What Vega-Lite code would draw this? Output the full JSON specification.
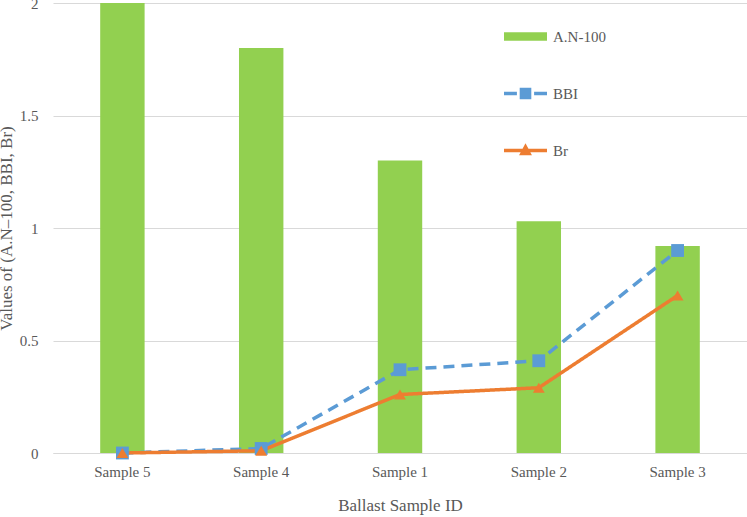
{
  "$schema": "https://vega.github.io/schema/vega-lite/v6.json",
  "width": 694,
  "height": 450,
  "autosize": {"type": "none"},
  "padding": {"left": 53, "top": 3, "right": 0, "bottom": 64},
  "background": "white",
  "config": {
    "font": "Liberation Serif",
    "view": {"stroke": null},
    "text": {"font": "Liberation Serif"},
    "axis": {"labelFont": "Liberation Serif", "titleFont": "Liberation Serif", "labelColor": "#595959", "titleColor": "#595959", "titleFontWeight": "normal"},
    "legend": {"labelFont": "Liberation Serif"}
  },
  "data": {
    "values": [
      {"sample": "Sample 5", "series": "A.N-100", "value": 2.0},
      {"sample": "Sample 4", "series": "A.N-100", "value": 1.8},
      {"sample": "Sample 1", "series": "A.N-100", "value": 1.3},
      {"sample": "Sample 2", "series": "A.N-100", "value": 1.03},
      {"sample": "Sample 3", "series": "A.N-100", "value": 0.92},
      {"sample": "Sample 5", "series": "BBI", "value": 0.0},
      {"sample": "Sample 4", "series": "BBI", "value": 0.02},
      {"sample": "Sample 1", "series": "BBI", "value": 0.37},
      {"sample": "Sample 2", "series": "BBI", "value": 0.41},
      {"sample": "Sample 3", "series": "BBI", "value": 0.9},
      {"sample": "Sample 5", "series": "Br", "value": 0.0},
      {"sample": "Sample 4", "series": "Br", "value": 0.01},
      {"sample": "Sample 1", "series": "Br", "value": 0.26},
      {"sample": "Sample 2", "series": "Br", "value": 0.29},
      {"sample": "Sample 3", "series": "Br", "value": 0.7}
    ]
  },
  "encoding": {
    "x": {
      "field": "sample", "type": "nominal",
      "sort": ["Sample 5", "Sample 4", "Sample 1", "Sample 2", "Sample 3"],
      "scale": {"paddingInner": 0.68, "paddingOuter": 0.34},
      "axis": {"title": "Ballast Sample ID", "labelAngle": 0, "labelFontSize": 15, "titleFontSize": 17, "labelPadding": 11, "titlePadding": 18, "ticks": false, "domainColor": "#d9d9d9"}
    },
    "y": {
      "field": "value", "type": "quantitative",
      "scale": {"domain": [0, 2]},
      "axis": {"title": "Values of (A.N\u2013100, BBI, Br)", "values": [0, 0.5, 1, 1.5, 2], "format": ".1~f", "labelFontSize": 15, "titleFontSize": 17, "ticks": false, "domain": false, "gridColor": "#d9d9d9", "labelPadding": 15, "titlePadding": 4}
    },
    "color": {
      "field": "series", "type": "nominal",
      "scale": {"domain": ["A.N-100", "BBI", "Br"], "range": ["#92d050", "#5b9bd5", "#ed7d31"]},
      "legend": {
        "title": null,
        "orient": "none",
        "legendX": 451,
        "legendY": 12,
        "symbolSize": 1849,
        "rowPadding": 27,
        "labelFontSize": 15,
        "labelColor": "#595959",
        "labelFont": "Liberation Serif",
        "labelOffset": 6,
        "encode": {
          "symbols": {
            "update": {
              "shape": {"signal": "datum.value === 'A.N-100' ? 'M-1,-0.2H1V0.2H-1Z' : datum.value === 'BBI' ? 'M-1,-0.08H-0.4V0.08H-1Z M-0.27,-0.27H0.27V0.27H-0.27Z M0.4,-0.08H1V0.08H0.4Z' : 'M-1,-0.08H1V0.08H-1Z M0,-0.34L0.3,0.22H-0.3Z'"},
              "fill": {"scale": "color", "field": "value"},
              "stroke": {"value": "transparent"},
              "strokeWidth": {"value": 0},
              "strokeDash": {"value": []},
              "opacity": {"value": 1}
            }
          }
        }
      }
    }
  },
  "layer": [
    {
      "transform": [{"filter": "datum.series === 'A.N-100'"}],
      "mark": {"type": "bar"}
    },
    {
      "transform": [{"filter": "datum.series !== 'A.N-100'"}],
      "mark": {"type": "line", "strokeWidth": 3.5},
      "encoding": {
        "strokeDash": {"field": "series", "type": "nominal", "scale": {"domain": ["BBI", "Br"], "range": [[11, 7], [1, 0]]}, "legend": null}
      }
    },
    {
      "transform": [{"filter": "datum.series === 'BBI'"}],
      "mark": {"type": "point", "shape": "square", "filled": true, "size": 165, "opacity": 1}
    },
    {
      "transform": [{"filter": "datum.series === 'Br'"}],
      "mark": {"type": "point", "shape": "triangle-up", "filled": true, "size": 140, "opacity": 1}
    }
  ]
}
